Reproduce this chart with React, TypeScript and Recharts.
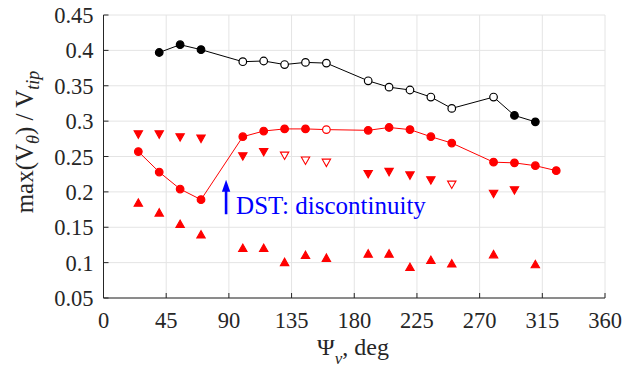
import React from 'react';
import { ComposedChart, Scatter, XAxis, YAxis, CartesianGrid } from 'recharts';

const xTicks = [0, 45, 90, 135, 180, 225, 270, 315, 360];
const xTickLabels = ['0', '45', '90', '135', '180', '225', '270', '315', '360'];
const yTicks = [0.05, 0.1, 0.15, 0.2, 0.25, 0.3, 0.35, 0.4, 0.45];
const yTickLabels = ['0.05', '0.1', '0.15', '0.2', '0.25', '0.3', '0.35', '0.4', '0.45'];

const blackX = [40, 55, 70, 100, 115, 130, 145, 160, 190, 205, 220, 235, 250, 280, 295, 310];
const blackY = [0.397, 0.408, 0.401, 0.384, 0.385, 0.380, 0.383, 0.382, 0.357, 0.348, 0.344, 0.334, 0.318, 0.334, 0.308, 0.299];
const blackOpen = [0, 0, 0, 1, 1, 1, 1, 1, 1, 1, 1, 1, 1, 1, 0, 0];

const redX = [25, 40, 55, 70, 100, 115, 130, 145, 160, 190, 205, 220, 235, 250, 280, 295, 310, 325];
const redY = [0.257, 0.228, 0.204, 0.189, 0.278, 0.286, 0.289, 0.289, 0.288, 0.287, 0.291, 0.288, 0.278, 0.269, 0.242, 0.241, 0.237, 0.230];
const redOpen = [0, 0, 0, 0, 0, 0, 0, 0, 1, 0, 0, 0, 0, 0, 0, 0, 0, 0];

const downX = [25, 40, 55, 70, 100, 115, 130, 145, 160, 190, 205, 220, 235, 250, 280, 295];
const downY = [0.281, 0.281, 0.277, 0.275, 0.250, 0.256, 0.251, 0.244, 0.241, 0.225, 0.228, 0.223, 0.216, 0.210, 0.197, 0.202];
const downOpen = [0, 0, 0, 0, 0, 0, 1, 1, 1, 0, 0, 0, 0, 1, 0, 0];

const upX = [25, 40, 55, 70, 100, 115, 130, 145, 160, 190, 205, 220, 235, 250, 280, 310];
const upY = [0.185, 0.171, 0.155, 0.140, 0.121, 0.121, 0.101, 0.111, 0.107, 0.113, 0.113, 0.094, 0.104, 0.099, 0.112, 0.098];

const arrowPoint = [{ x: 88, y: 0.1685 }];
const notePoint = [{ x: 95.2, y: 0.1685, text: 'DST: discontinuity' }];

const build = (xs: number[], ys: number[], open?: number[]) =>
  xs.map((x, i) => ({ x, y: ys[i], open: open ? open[i] : 0 }));

const blackData = build(blackX, blackY, blackOpen);
const redData = build(redX, redY, redOpen);
const downData = build(downX, downY, downOpen);
const upData = build(upX, upY);

const FONT = 'Liberation Serif';
const AXIS = '#262626';
const RED = '#ff0000';

const BottomTick = (p: any) => {
  const i = xTicks.indexOf(p.payload.value);
  return (
    <g>
      <line x1={p.x} y1={p.y} x2={p.x} y2={p.y - 5} stroke={AXIS} strokeWidth={1} />
      <text x={p.x} y={p.y + 29.5} textAnchor="middle" fontFamily={FONT} fontSize={22.5} fill={AXIS}>
        {xTickLabels[i]}
      </text>
    </g>
  );
};
const TopTick = (p: any) => (
  <line x1={p.x} y1={p.y} x2={p.x} y2={p.y + 5} stroke={AXIS} strokeWidth={1} />
);
const LeftTick = (p: any) => {
  const i = yTicks.indexOf(p.payload.value);
  return (
    <g>
      <line x1={p.x} y1={p.y} x2={p.x + 5} y2={p.y} stroke={AXIS} strokeWidth={1} />
      <text x={p.x - 10} y={p.y + 8} textAnchor="end" fontFamily={FONT} fontSize={22.5} fill={AXIS}>
        {yTickLabels[i]}
      </text>
    </g>
  );
};
const RightTick = (p: any) => (
  <line x1={p.x} y1={p.y} x2={p.x - 5} y2={p.y} stroke={AXIS} strokeWidth={1} />
);

const YLabel = () => (
  <text
    x={33}
    y={142}
    transform="rotate(-90 33 142)"
    textAnchor="middle"
    fontFamily={FONT}
    fontSize={25}
    fill={AXIS}
  >
    max(V
    <tspan dy={6} fontSize={18} fontStyle="italic">θ</tspan>
    <tspan dy={-6}>) / V</tspan>
    <tspan dy={6} fontSize={18} fontStyle="italic">tip</tspan>
  </text>
);

const XLabel = () => (
  <text x={353} y={355} textAnchor="middle" fontFamily={FONT} fontSize={24} fill={AXIS}>
    Ψ
    <tspan dy={9} fontSize={17} fontStyle="italic">v</tspan>
    <tspan dy={-9}>, deg</tspan>
  </text>
);

const circleShape = (color: string) => (p: any) => {
  const open = p.payload && p.payload.open;
  return (
    <circle
      cx={p.cx}
      cy={p.cy}
      r={3.8}
      fill={open ? '#ffffff' : color}
      stroke={color}
      strokeWidth={1.2}
    />
  );
};

const triShape = (dir: 'up' | 'down') => (p: any) => {
  const open = p.payload && p.payload.open;
  const s = 4.2;
  const h = 3.7;
  const pts =
    dir === 'down'
      ? `${p.cx - s},${p.cy - h} ${p.cx + s},${p.cy - h} ${p.cx},${p.cy + h}`
      : `${p.cx - s},${p.cy + h} ${p.cx + s},${p.cy + h} ${p.cx},${p.cy - h}`;
  return <polygon points={pts} fill={open ? '#ffffff' : RED} stroke={RED} strokeWidth={1.1} strokeLinejoin="miter" />;
};

const arrowShape = (p: any) => {
  const x = p.cx;
  const y = p.cy;
  return (
    <g>
      <line x1={x} y1={y} x2={x} y2={y - 24} stroke="#0000ff" strokeWidth={2.6} />
      <polygon points={`${x - 4.2},${y - 22.5} ${x + 4.2},${y - 22.5} ${x},${y - 34.5}`} fill="#0000ff" />
    </g>
  );
};

const noteShape = (p: any) => (
  <text x={p.cx} y={p.cy} fontFamily={FONT} fontSize={25} fill="#0000ff">
    {p.payload.text}
  </text>
);

export default function App() {
  return (
    <div style={{ position: 'absolute', left: 0, top: 0, background: '#fff' }}>
      <ComposedChart width={627} height={376} margin={{ top: 15, right: 22, bottom: 0, left: 0 }}>
        <CartesianGrid stroke="#e4e4e4" strokeWidth={1} />
        <XAxis
          type="number"
          dataKey="x"
          domain={[0, 360]}
          ticks={xTicks}
          height={78}
          tickSize={0}
          tickMargin={0}
          tickLine={false}
          axisLine={{ stroke: AXIS, strokeWidth: 1 }}
          tick={BottomTick}
          interval={0}
          allowDataOverflow
          label={<XLabel />}
        />
        <XAxis
          xAxisId="top"
          orientation="top"
          type="number"
          domain={[0, 360]}
          ticks={xTicks}
          height={0}
          tickSize={0}
          tickMargin={0}
          tickLine={false}
          axisLine={{ stroke: AXIS, strokeWidth: 1 }}
          tick={TopTick}
          interval={0}
          allowDataOverflow
        />
        <YAxis
          type="number"
          dataKey="y"
          domain={[0.05, 0.45]}
          ticks={yTicks}
          width={103.5}
          tickSize={0}
          tickMargin={0}
          tickLine={false}
          axisLine={{ stroke: AXIS, strokeWidth: 1 }}
          tick={LeftTick}
          interval={0}
          allowDataOverflow
          label={<YLabel />}
        />
        <YAxis
          yAxisId="right"
          orientation="right"
          type="number"
          domain={[0.05, 0.45]}
          ticks={yTicks}
          width={0}
          tickSize={0}
          tickMargin={0}
          tickLine={false}
          axisLine={{ stroke: AXIS, strokeWidth: 1 }}
          tick={RightTick}
          interval={0}
          allowDataOverflow
        />
        <Scatter
          data={blackData}
          dataKey="y"
          isAnimationActive={false}
          line={{ stroke: '#000000', strokeWidth: 1 }}
          shape={circleShape('#000000')}
        />
        <Scatter
          data={redData}
          dataKey="y"
          isAnimationActive={false}
          line={{ stroke: RED, strokeWidth: 1 }}
          shape={circleShape(RED)}
        />
        <Scatter data={downData} dataKey="y" isAnimationActive={false} shape={triShape('down')} />
        <Scatter data={upData} dataKey="y" isAnimationActive={false} shape={triShape('up')} />
        <Scatter data={arrowPoint} dataKey="y" isAnimationActive={false} shape={arrowShape} />
        <Scatter data={notePoint} dataKey="y" isAnimationActive={false} shape={noteShape} />
      </ComposedChart>
    </div>
  );
}
